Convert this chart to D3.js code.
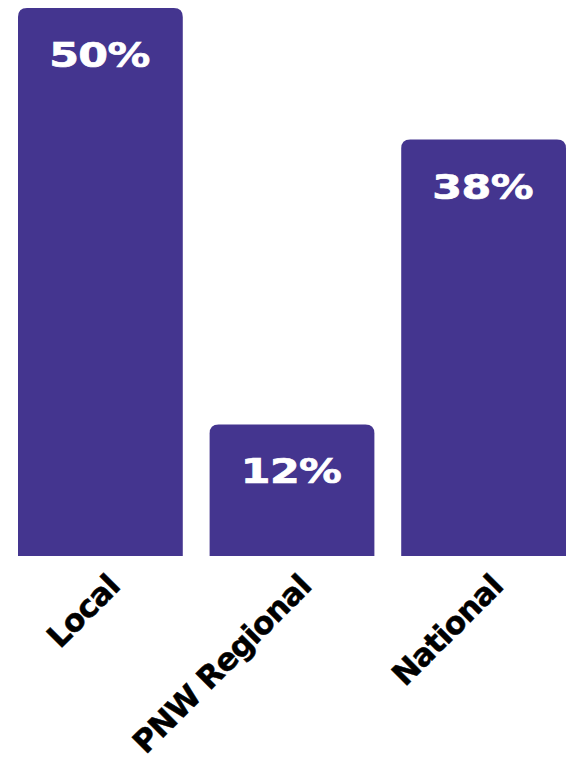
<!DOCTYPE html>
<html>
<head>
<meta charset="utf-8">
<script src="https://cdn.jsdelivr.net/npm/d3@7"></script>
<style>
  html, body { margin: 0; padding: 0; background: #ffffff; }
  svg { display: block; }
</style>
</head>
<body>
<svg id="chart" width="571" height="759"></svg>
<script>
const categories = ["Local", "PNW Regional", "National"];
const values = [50, 12, 38];
const valueLabels = ["50%", "12%", "38%"];

const barColor = "#44358f";
const radius = 9;
const fontFamily = "'DejaVu Sans', 'Liberation Sans', Arial, sans-serif";

const svg = d3.select("#chart");

const x = d3.scaleBand()
  .domain(categories)
  .range([18, 566])
  .paddingInner(0.14)
  .paddingOuter(0);

const y = d3.scaleLinear()
  .domain([0, 50])
  .range([556, 8]);

function topRoundedRect(x0, y0, w, h, r) {
  r = Math.min(r, h, w / 2);
  return `M${x0},${y0 + h}` +
    `V${y0 + r}` +
    `Q${x0},${y0} ${x0 + r},${y0}` +
    `H${x0 + w - r}` +
    `Q${x0 + w},${y0} ${x0 + w},${y0 + r}` +
    `V${y0 + h}Z`;
}

const data = categories.map((c, i) => ({ cat: c, value: values[i], label: valueLabels[i] }));

svg.append("g")
  .selectAll("path")
  .data(data)
  .join("path")
  .attr("d", d => topRoundedRect(x(d.cat), y(d.value), x.bandwidth(), y(0) - y(d.value), radius))
  .attr("fill", barColor);

svg.append("g")
  .selectAll("text")
  .data(data)
  .join("text")
  .attr("transform", d => `translate(${x(d.cat) + x.bandwidth() / 2 - 1},${y(d.value) + 59}) scale(1.24,1)`)
  .attr("text-anchor", "middle")
  .attr("font-family", fontFamily)
  .attr("font-weight", "bold")
  .attr("font-size", 34.5)
  .attr("letter-spacing", -0.5)
  .attr("fill", "#ffffff")
  .attr("stroke", "#ffffff")
  .attr("stroke-width", 0.7)
  .text(d => d.label);

svg.append("g")
  .selectAll("text")
  .data(data)
  .join("text")
  .attr("transform", d => `translate(${x(d.cat) + x.bandwidth() / 2 + 21},${y(0) + 32}) rotate(-45)`)
  .attr("text-anchor", "end")
  .attr("font-family", fontFamily)
  .attr("font-weight", "bold")
  .attr("font-size", 31)
  .attr("letter-spacing", -0.8)
  .attr("fill", "#000000")
  .attr("stroke", "#000000")
  .attr("stroke-width", 0.5)
  .text(d => d.cat);
</script>
</body>
</html>
